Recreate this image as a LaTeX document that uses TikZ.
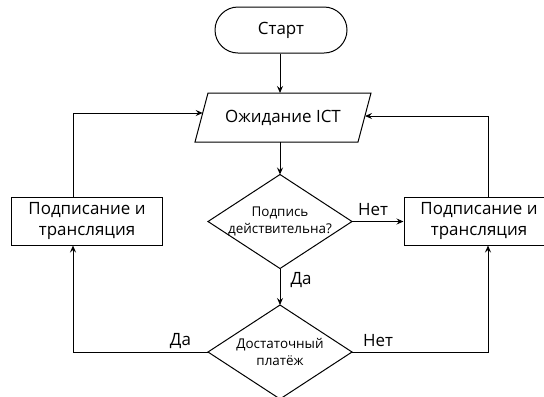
\documentclass[tikz,border=0pt]{standalone}
\usepackage{fontspec}
\setmainfont{Open Sans}
\usetikzlibrary{arrows.meta}
\begin{document}
\begin{tikzpicture}[x=1bp,y=-1bp,line width=1bp,
  arr/.style={-{Stealth[length=7bp,width=6bp,inset=2.5bp]}},
  boxstyle/.style={draw,rectangle,minimum width=150bp,minimum height=48bp,inner sep=0,align=center,font=\fontsize{17}{22}\selectfont},
  diam/.style={rectangle,minimum width=143bp,minimum height=93bp,inner sep=0,align=center,font=\fontsize{13.5}{16.5}\selectfont},
  lbl/.style={font=\fontsize{17}{20}\selectfont,inner sep=0}]
\useasboundingbox (0,0) rectangle (544,396);
\clip (0,0) rectangle (544,396);
\node[draw,rectangle,rounded corners=23bp,minimum width=132bp,minimum height=46bp,font=\fontsize{17}{20}\selectfont] (start) at (281,30) {Старт};
\node[inner sep=0,minimum width=150bp,minimum height=49bp,font=\fontsize{17}{20}\selectfont] (wait) at (283,118) {Ожидание ICT};
\draw (208,93) -- (371,93) -- (358,142) -- (195,142) -- cycle;
\coordinate (wl) at (202.7,113);
\coordinate (wr) at (365,116);
\coordinate (wt) at (280,93);
\coordinate (wb) at (280,142);
\node[diam] (d1) at (280,221.5) {Подпись\\действительна?};
\draw (d1.north) -- (d1.east) -- (d1.south) -- (d1.west) -- cycle;
\node[diam] (d2) at (280,352) {Достаточный\\платёж};
\draw (d2.north) -- (d2.east) -- (d2.south) -- (d2.west) -- cycle;
\node[boxstyle] (lbox) at (87,221) {Подписание и\\трансляция};
\node[boxstyle] (rbox) at (479,221) {Подписание и\\трансляция};
\coordinate (lx) at (73,0);
\coordinate (rx) at (488,0);
\draw[arr] (start.south -| wt) -- (wt);
\draw[arr] (wb) -- (d1.north);
\draw[arr] (d1.south) -- node[lbl,right=10bp,pos=0.32] {Да} (d2.north);
\draw[arr] (d1.east) -- node[lbl,above=5bp,pos=0.41] {Нет} (d1.east -| rbox.west);
\draw[arr] (lbox.north -| lx) |- (wl);
\draw[arr] (rbox.north -| rx) |- (wr);
\draw[arr] (d2.west) -| node[lbl,above=3bp,pos=0.102] {Да} (lbox.south -| lx);
\draw[arr] (d2.east) -| node[lbl,above=5bp,pos=0.096] {Нет} (rbox.south -| rx);
\end{tikzpicture}
\end{document}
